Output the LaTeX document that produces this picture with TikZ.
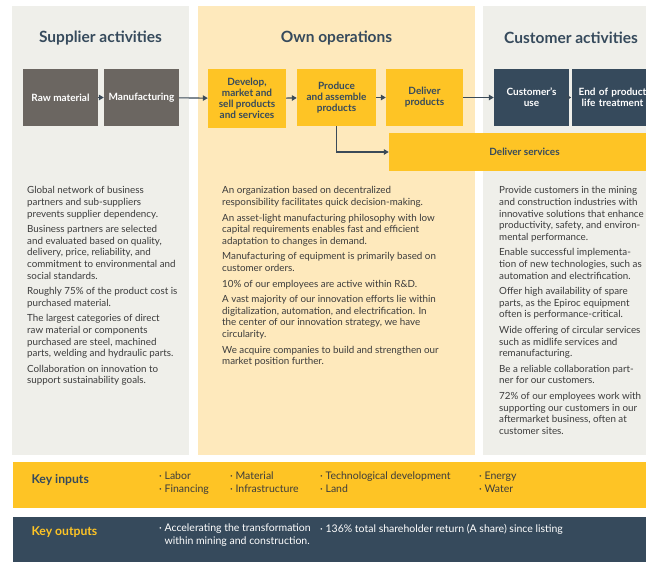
\documentclass[tikz,border=0pt]{standalone}
\usepackage{fontspec}
\setmainfont{Lato}
\usepackage{xcolor}
\usepackage{tikz}
\usetikzlibrary{positioning, arrows.meta}
\definecolor{vcGrey}{HTML}{EFEFEA}
\definecolor{vcCream}{HTML}{FEE9BC}
\definecolor{vcYellow}{HTML}{FEC425}
\definecolor{vcSlate}{HTML}{364A5C}
\definecolor{vcStone}{HTML}{6B6661}
\definecolor{vcLine}{HTML}{3B4A58}
\definecolor{vcText}{HTML}{3C3C3C}
\tikzset{
  panel/.style={
    rectangle, fill=#1, draw=none,
    minimum height=449pt, inner sep=0pt
  },
  title/.style={font=\fontsize{15.5}{18}\selectfont\bfseries, text=vcSlate},
  stage/.style={
    rectangle, fill=#1, draw=none,
    minimum width=75pt, minimum height=57pt,
    inner sep=1pt, align=center,
    font=\fontsize{10}{11}\selectfont\bfseries
  },
  body/.style={
    anchor=north west, align=left, inner sep=0pt,
    font=\fontsize{9.8}{11.6}\selectfont, text=vcText
  },
  bar/.style={
    rectangle, fill=#1, draw=none,
    minimum width=660pt, minimum height=46pt, inner sep=0pt
  },
  barlabel/.style={anchor=west, font=\fontsize{12.2}{14}\selectfont\bfseries},
  baritem/.style={anchor=north west, align=left, inner sep=0pt,
    font=\fontsize{10.5}{12.4}\selectfont},
  arrow/.style={
    -{Triangle[length=5pt, width=5.5pt]},
    vcLine, line width=1.1pt
  }
}

\begin{document}
\begin{tikzpicture}[x=1pt, y=-1pt]
      \useasboundingbox (0,0) rectangle (646,562);
      \fill[white] (0,0) rectangle (646,562);
      \clip (0,0) rectangle (646,562);
      % Three columns
      \node[panel=vcGrey, minimum width=177pt] (supplier) at (100.5, 230.5) {};
      \node[panel=vcCream, minimum width=277pt] (own) at (336.5, 230.5) {};
      \node[panel=vcGrey, minimum width=180pt] (customer) at (573, 230.5) {};
      \node[title] (supplierTitle) at (100.5, 38) {Supplier activities};
      \node[title] (ownTitle) at (336.5, 38) {Own operations};
      \node[title] (customerTitle) at (571, 38) {Customer activities};
      % Value chain stages
      \node[stage=vcStone, text=white] (raw) at (60.5, 97.5) {Raw material};
      \node[stage=vcStone, text=white] (manu) at (141.5, 97.5) {Manufacturing};
      \node[stage=vcYellow, text=vcSlate, minimum width=78pt, minimum height=59pt] (develop) at (247, 98.5) {Develop,\\market and\\sell products\\and services};
      \node[stage=vcYellow, text=vcSlate, minimum width=79pt] (produce) at (336.5, 97.5) {Produce\\and assemble\\products};
      \node[stage=vcYellow, text=vcSlate, minimum width=77pt] (deliver) at (424.5, 97.5) {Deliver\\products};
      \node[stage=vcSlate, text=white] (use) at (531.5, 97.5) {Customer's\\use};
      \node[stage=vcSlate, text=white, text width=80pt] (endlife) at (612.5, 97.5) {End of product\\life treatment};
      \node[stage=vcYellow, text=vcSlate, minimum width=271pt, minimum height=38pt] (services) at (524.5, 152) {Deliver services};
      % Flow between stages
      \draw[arrow] (raw) -- (manu);
      \draw[arrow] (manu) -- (develop);
      \draw[arrow] (develop) -- (produce);
      \draw[arrow] (produce) -- (deliver);
      \draw[arrow] (deliver) -- (use);
      \draw[arrow] (use) -- (endlife);
      \draw[arrow] (produce.south) |- (services.west);
      % Column texts
      \node[body] (supplierText) at (27, 186.5) {Global network of business\\partners and sub-suppliers\\prevents supplier dependency.\\[4pt]
        Business partners are selected\\and evaluated based on quality,\\delivery, price, reliability, and\\commitment to environmental and\\social standards.\\[4pt]
        Roughly 75\% of the product cost is\\purchased material.\\[4pt]
        The largest categories of direct\\raw material or components\\purchased are steel, machined\\parts, welding and hydraulic parts.\\[4pt]
        Collaboration on innovation to\\support sustainability goals.};
      \node[body] (ownText) at (222, 186.5) {An organization based on decentralized\\responsibility facilitates quick decision-making.\\[4pt]
        An asset-light manufacturing philosophy with low\\capital requirements enables fast and efficient\\adaptation to changes in demand.\\[4pt]
        Manufacturing of equipment is primarily based on\\customer orders.\\[4pt]
        10\% of our employees are active within R\&D.\\[4pt]
        A vast majority of our innovation efforts lie within\\digitalization, automation, and electrification. In\\the center of our innovation strategy, we have\\circularity.\\[4pt]
        We acquire companies to build and strengthen our\\market position further.};
      \node[body] (customerText) at (499, 186.5) {Provide customers in the mining\\and construction industries with\\innovative solutions that enhance\\productivity, safety, and environ-\\mental performance.\\[4pt]
        Enable successful implementa-\\tion of new technologies, such as\\automation and electrification.\\[4pt]
        Offer high availability of spare\\parts, as the Epiroc equipment\\often is performance-critical.\\[4pt]
        Wide offering of circular services\\such as midlife services and\\remanufacturing.\\[4pt]
        Be a reliable collaboration part-\\ner for our customers.\\[4pt]
        72\% of our employees work with\\supporting our customers in our\\aftermarket business, often at\\customer sites.};
      % Key inputs
      \node[bar=vcYellow] (inputs) at (343, 485) {};
      \node[barlabel, text=vcSlate] (inputsLabel) at (28, 480) {Key inputs};
      \node[baritem, text=vcText] (inLabor) at (159, 472) {· Labor\\· Financing};
      \node[baritem, text=vcText] (inMaterial) at (230, 472) {· Material\\· Infrastructure};
      \node[baritem, text=vcText] (inTech) at (320, 472) {· Technological development\\· Land};
      \node[baritem, text=vcText] (inEnergy) at (479, 472) {· Energy\\· Water};
      % Key outputs
      \node[bar=vcSlate, minimum height=48pt] (outputs) at (343, 541) {};
      \node[barlabel, text=vcYellow] (outputsLabel) at (28, 532) {Key outputs};
      \node[baritem, text=white] (outGrowth) at (159, 524) {· Accelerating the transformation\\\phantom{· }within mining and construction.};
      \node[baritem, text=white] (outReturn) at (320, 524) {· 136\% total shareholder return (A share) since listing};
    \end{tikzpicture}
\end{document}
